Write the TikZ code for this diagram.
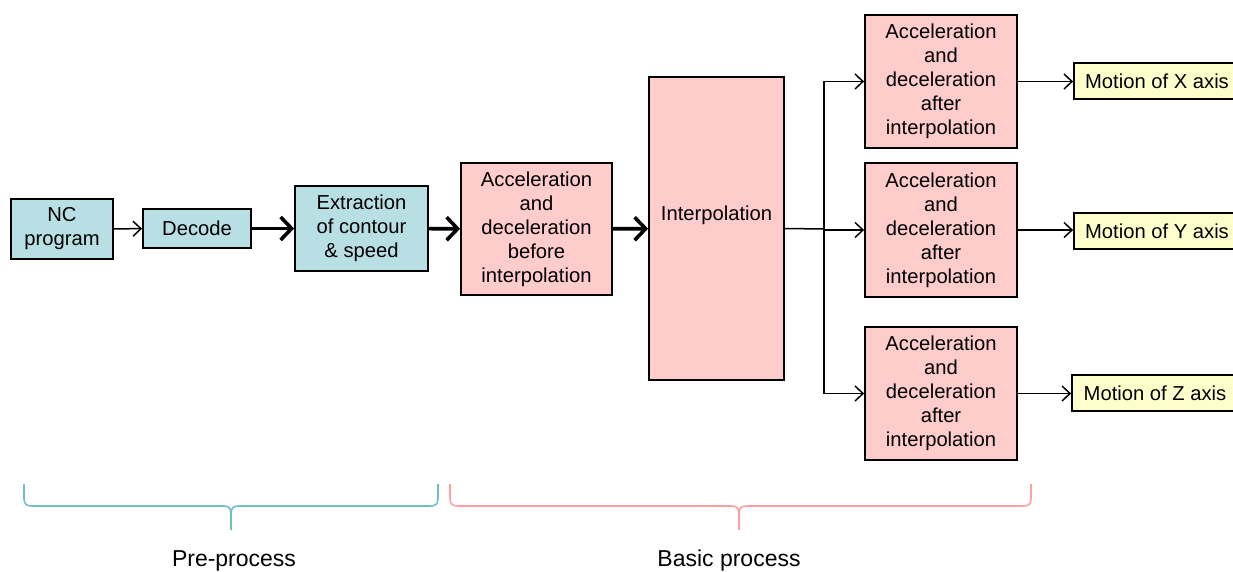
\documentclass[tikz,border=0pt]{standalone}
\usepackage{fontspec}
\setmainfont{Liberation Sans}
\usepackage{xcolor}
\usepackage{tikz}
\usetikzlibrary{arrows.meta}
\definecolor{azul}{RGB}{184,223,227}
\definecolor{rosa}{RGB}{255,204,204}
\definecolor{crema}{RGB}{255,255,204}
\definecolor{verdeazul}{RGB}{112,190,198}
\definecolor{coral}{RGB}{255,160,160}
\newcommand{\llave}[4]{%
  \draw[#4, line width=1.6pt] (#1,484) -- (#1,498) .. controls (#1,504) and ({#1+2},506) .. ({#1+8},506)
    -- ({#2-8},506) .. controls ({#2-2},506) and (#2,508) .. (#2,514) -- (#2,530);
  \draw[#4, line width=1.6pt] (#3,484) -- (#3,498) .. controls (#3,504) and ({#3-2},506) .. ({#3-8},506)
    -- ({#2+8},506) .. controls ({#2+2},506) and (#2,508) .. (#2,514);}

\begin{document}
\begin{tikzpicture}[x=1pt, y=-1pt, >={Straight Barb[length=8pt,width=15pt]},
  caja/.style={draw, line width=1.8pt, align=center, inner sep=0pt, font=\fontsize{20.2}{24}\selectfont},
  pre/.style={caja, fill=azul},
  basico/.style={caja, fill=rosa},
  salida/.style={caja, fill=crema, minimum width=166pt, minimum height=36pt},
  fina/.style={->, line width=1.5pt},
  gruesa/.style={-{Straight Barb[length=11pt,width=23pt]}, line width=3.6pt}]
  \useasboundingbox (0,0) rectangle (1233,572);
  \clip (0,0) rectangle (1233,572);
  % pre-proceso
  \node[pre, minimum width=102pt, minimum height=60pt] (nc) at (62,229) {NC\\program};
  \node[pre, minimum width=108pt, minimum height=39pt] (deco) at (197,228.5) {Decode};
  \node[pre, minimum width=133pt, minimum height=85pt] (extr) at (361.5,228.5) {Extraction\\of contour\\\& speed};
  % proceso basico
  \node[basico, minimum width=151pt, minimum height=132pt] (acantes) at (536.5,229) {Acceleration\\and\\deceleration\\before\\interpolation};
  \node[basico, minimum width=135pt, minimum height=303pt,
    label={[font=\fontsize{20.2}{24}\selectfont, yshift=13pt]center:Interpolation}] (interp) at (716.5,228.5) {};
  \node[basico, minimum width=152pt, minimum height=133pt] (acx) at (941,81.5) {Acceleration\\and\\deceleration\\after\\interpolation};
  \node[basico, minimum width=152pt, minimum height=134pt] (acy) at (941,230) {Acceleration\\and\\deceleration\\after\\interpolation};
  \node[basico, minimum width=152pt, minimum height=133pt] (acz) at (941,393.5) {Acceleration\\and\\deceleration\\after\\interpolation};
  % ejes
  \node[salida] (movx) at (1157,81) {Motion of X axis};
  \node[salida] (movy) at (1157,231) {Motion of Y axis};
  \node[salida] (movz) at (1155,393) {Motion of Z axis};
  % flechas
  \coordinate (rama) at (824,229);
  \draw[fina] (nc) -- (deco);
  \draw[gruesa] (deco) -- (extr);
  \draw[gruesa] (extr) -- (acantes);
  \draw[gruesa] (acantes) -- (interp);
  \draw[line width=1.5pt] (interp.east) -- (rama);
  \draw[fina] (rama) |- (acx.west);
  \draw[fina] (rama) |- (acy.west);
  \draw[fina] (rama) |- (acz.west);
  \draw[fina] (acx.east) -- (acx.east -| movx.west);
  \draw[fina] (acy.east) -- (acy.east -| movy.west);
  \draw[fina] (acz.east) -- (acz.east -| movz.west);
  % llaves
  \llave{24}{231}{438}{verdeazul}
  \llave{450}{739}{1031}{coral}
  \node[font=\fontsize{23}{27}\selectfont] (etpre) at (234,561) {Pre-process};
  \node[font=\fontsize{23}{27}\selectfont] (etbas) at (729,561) {Basic process};
\end{tikzpicture}
\end{document}
